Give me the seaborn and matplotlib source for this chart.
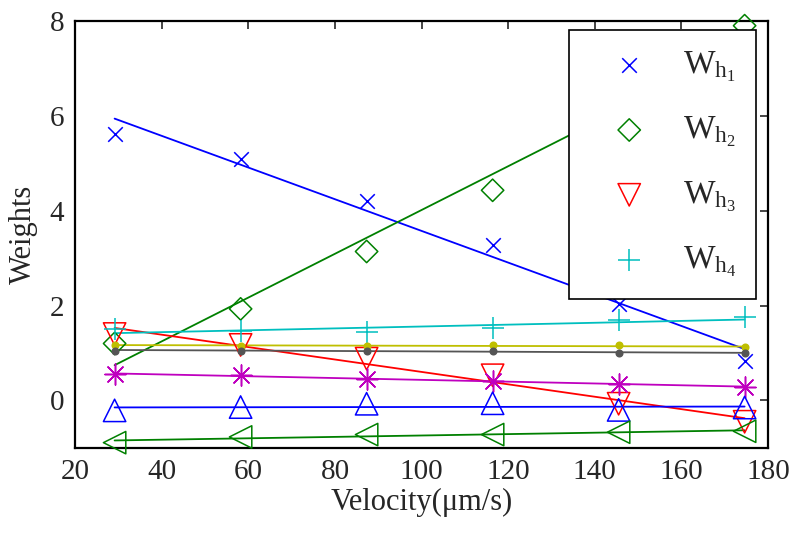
import numpy as np
import matplotlib
matplotlib.use("Agg")
import matplotlib.pyplot as plt
import seaborn as sns

# sample velocities (um/s)
velocity = [29.1, 58.2, 87.3, 116.4, 145.5, 174.6]

# weights
w_h1 = [5.62, 5.10, 4.20, 3.27, 2.04, 0.84]
w_h2 = [1.20, 1.93, 3.14, 4.43, 6.00, 7.90]
w_h3 = [1.40, 1.17, 0.88, 0.53, -0.07, -0.45]
w_h4 = [1.50, 1.46, 1.45, 1.52, 1.69, 1.75]
w_yellow = [1.17, 1.15, 1.15, 1.16, 1.16, 1.12]
w_gray = [1.05, 1.05, 1.05, 1.05, 1.01, 0.99]
w_magenta = [0.55, 0.53, 0.46, 0.41, 0.35, 0.28]
w_bluetri = [-0.21, -0.14, -0.07, -0.06, -0.20, -0.15]
w_greentri = [-0.89, -0.77, -0.72, -0.72, -0.67, -0.65]

legend_labels = [r"$\mathrm{W}_{\mathrm{h}_{1}}$", r"$\mathrm{W}_{\mathrm{h}_{2}}$",
                 r"$\mathrm{W}_{\mathrm{h}_{3}}$", r"$\mathrm{W}_{\mathrm{h}_{4}}$"]

sns.set_style("white")
plt.rcParams["font.family"] = ["Liberation Serif", "DejaVu Serif"]
plt.rcParams["mathtext.fontset"] = "custom"
plt.rcParams["mathtext.rm"] = "Liberation Serif"
plt.rcParams["mathtext.it"] = "Liberation Serif:italic"

fig = plt.figure(figsize=(8, 5.37), dpi=100)
ax = fig.add_axes([0.094, 0.166, 0.866, 0.795])

# (values, colour, marker, size, hollow, label)
series = [
    (w_h1, "#0000ff", "x", 110, False, legend_labels[0]),
    (w_h2, "#008000", "D", 130, True, legend_labels[1]),
    (w_h3, "#ff0000", "v", 260, True, legend_labels[2]),
    (w_h4, "#00bfbf", "+", 230, False, legend_labels[3]),
    (w_yellow, "#bfbf00", "o", 22, False, None),
    (w_gray, "#555555", "o", 22, False, None),
    (w_magenta, "#bf00bf", (8, 2, 0), 230, False, None),
    (w_bluetri, "#0000ff", "^", 260, True, None),
    (w_greentri, "#008000", "<", 260, True, None),
]

x = np.array(velocity)
for vals, col, mk, size, hollow, lab in series:
    skw = {"s": size, "alpha": 1, "linewidths": 1.1, "clip_on": False, "zorder": 3}
    if hollow:
        skw["facecolors"] = "none"
    sns.regplot(x=x, y=np.array(vals), ax=ax, ci=None, marker=mk, color=col,
                scatter_kws=skw, line_kws={"lw": 1.3, "color": col, "zorder": 2},
                label=lab)

ax.set_xlim(20, 180)
ax.set_ylim(-1, 8)
ax.set_xticks(np.arange(20, 181, 20))
ax.set_yticks([0, 2, 4, 6, 8])
ax.tick_params(direction="in", top=True, right=True, length=6, width=1.2,
               labelsize=21, pad=8)
for sp in ax.spines.values():
    sp.set_visible(True)
    sp.set_color("black")
    sp.set_linewidth(1.6)

ax.set_xlabel("Velocity(μm/s)", fontsize=22, labelpad=2)
ax.set_ylabel("Weights", fontsize=22, labelpad=8)

leg = ax.legend(loc="upper right", bbox_to_anchor=(0.983, 0.979), borderaxespad=0,
                fontsize=24, labelspacing=0.92, handletextpad=0.4, borderpad=0.6,
                handlelength=2.4, fancybox=False, framealpha=1, edgecolor="black")
leg.get_frame().set_linewidth(1.2)
leg.set_zorder(5)

fig.savefig("out.png", dpi=100)
